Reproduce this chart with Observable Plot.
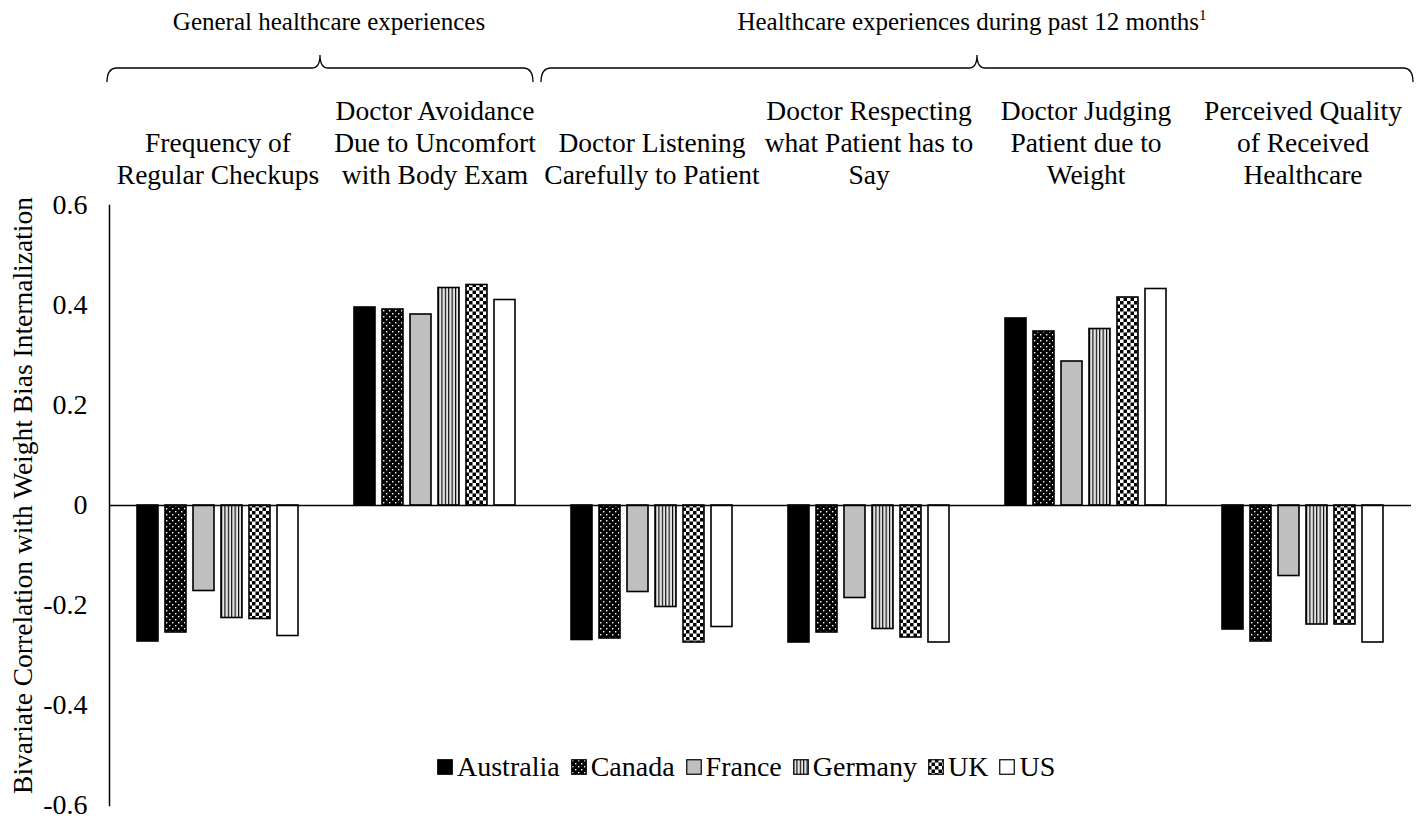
<!DOCTYPE html>
<html>
<head>
<meta charset="utf-8">
<script src="https://cdn.jsdelivr.net/npm/d3@7"></script>
<script src="https://cdn.jsdelivr.net/npm/@observablehq/plot@0.6"></script>
<style>
  html, body { margin: 0; padding: 0; background: white; }
  #wrap { position: relative; width: 1420px; height: 820px; font-family: "Liberation Serif", "Times New Roman", serif; }
  #legend { position: absolute; left: 437px; top: 751px; display: flex; align-items: center; font-size: 28px; white-space: nowrap; }
  #legend .item { display: flex; align-items: center; margin-right: 11px; }
  #legend svg { margin-right: 4px; }
</style>
</head>
<body>
<svg width="0" height="0" style="position:absolute">
  <defs>
    <pattern id="pat-canada" width="6" height="6" patternUnits="userSpaceOnUse">
      <rect width="6" height="6" fill="black"/>
      <rect x="1" y="1" width="1.4" height="1.4" fill="white"/>
      <rect x="4" y="4" width="1.4" height="1.4" fill="white"/>
    </pattern>
    <pattern id="pat-germany" width="3.4" height="4" patternUnits="userSpaceOnUse">
      <rect width="3.4" height="4" fill="#e4e4e4"/>
      <rect x="0" width="1.1" height="4" fill="black"/>
    </pattern>
    <pattern id="pat-uk" width="7" height="7" patternUnits="userSpaceOnUse">
      <rect width="7" height="7" fill="white"/>
      <rect width="3.5" height="3.5" fill="black"/>
      <rect x="3.5" y="3.5" width="3.5" height="3.5" fill="black"/>
    </pattern>
  </defs>
</svg>
<div id="wrap"></div>
<script>
// ---- data ----
const categories = [
  "Frequency of\nRegular Checkups",
  "Doctor Avoidance\nDue to Uncomfort\nwith Body Exam",
  "Doctor Listening\nCarefully to Patient",
  "Doctor Respecting\nwhat Patient has to\nSay",
  "Doctor Judging\nPatient due to\nWeight",
  "Perceived Quality\nof Received\nHealthcare"
];
const countries = ["Australia", "Canada", "France", "Germany", "UK", "US"];
const australia = [-0.272, 0.396, -0.269, -0.274, 0.374, -0.248];
const canada    = [-0.254, 0.392, -0.266, -0.254, 0.348, -0.272];
const france    = [-0.171, 0.382, -0.173, -0.185, 0.288, -0.141];
const germany   = [-0.225, 0.435, -0.203, -0.247, 0.353, -0.238];
const uk        = [-0.227, 0.441, -0.274, -0.264, 0.416, -0.238];
const us        = [-0.261, 0.411, -0.243, -0.274, 0.433, -0.274];
const yTicks = [-0.6, -0.4, -0.2, 0, 0.2, 0.4, 0.6];
const yTitle = "Bivariate Correlation with Weight Bias Internalization";
const groupHeaders = ["General healthcare experiences", "Healthcare experiences during past 12 months"];
const groupFootnote = ["", "1"];
const groupFirst = [0, 2];
const groupLast = [1, 5];
const countryFills = ["black", "url(#pat-canada)", "#bfbfbf", "url(#pat-germany)", "url(#pat-uk)", "white"];

// ---- table ----
const series = [australia, canada, france, germany, uk, us];
const rows = [];
categories.forEach((c, i) => countries.forEach((k, j) => rows.push({category: c, country: k, value: series[j][i]})));

const font = "'Liberation Serif', 'Times New Roman', serif";
const plot = Plot.plot({
  width: 1420,
  height: 820,
  marginTop: 205,
  marginBottom: 15,
  marginLeft: 109,
  marginRight: 9,
  style: {fontFamily: font, fontSize: "27px", color: "black", background: "white"},
  fx: {domain: categories, paddingInner: 0, paddingOuter: 0, label: null, axis: null},
  x: {domain: countries, paddingInner: 0.24, paddingOuter: 0.9, axis: null},
  y: {domain: [-0.6, 0.6], axis: null},
  color: {domain: countries, range: countryFills},
  marks: [
    Plot.barY(rows, {fx: "category", x: "country", y: "value", fill: "country", stroke: "black", strokeWidth: 1.6}),
    Plot.ruleY([0], {stroke: "black", strokeWidth: 1.5}),
    Plot.frame({anchor: "left", facet: "super", stroke: "black", strokeWidth: 1.5}),
    Plot.axisY({ticks: yTicks, tickSize: 0, tickPadding: 22, fontSize: 28,
      tickFormat: d => d === 0 ? "0" : d.toFixed(1),
      label: yTitle, labelAnchor: "center", labelOffset: 97, labelArrow: "none"}),
    Plot.axisFx({anchor: "top", tickSize: 0, tickPadding: 22, fontSize: 27.5, lineHeight: 1.16, label: null})
  ]
});
document.getElementById("wrap").appendChild(plot);
// the rotated axis title in the same serif size as in the reference, nudged up a little
d3.select(plot).selectAll("g[aria-label='y-axis label'] text").attr("font-size", 27.5).attr("dx", 10);

// ---- group headers and braces, positioned with the fx scale ----
const fx = plot.scale("fx");
const bw = fx.bandwidth;
const svg = d3.select(plot);
const headerShift = [9, -5];
groupHeaders.forEach((h, g) => {
  const x0 = fx.apply(categories[groupFirst[g]]) - 2;
  const x1 = fx.apply(categories[groupLast[g]]) + bw + (g === 0 ? -10 : 2);
  const xm = (x0 + x1) / 2;
  const yL = 68, yE = 82, yC = 55;
  const p = `M${x0},${yE} Q${x0},${yL} ${x0 + 10},${yL} L${xm - 8},${yL} Q${xm},${yL} ${xm},${yC} Q${xm},${yL} ${xm + 8},${yL} L${x1 - 10},${yL} Q${x1},${yL} ${x1},${yE}`;
  svg.append("path").attr("d", p).attr("fill", "none").attr("stroke", "black").attr("stroke-width", 1.3);
  const t = svg.append("text").attr("x", xm + headerShift[g]).attr("y", 30).attr("text-anchor", "middle")
    .attr("font-family", font).attr("font-size", 25).attr("fill", "black").text(h);
  if (groupFootnote[g]) t.append("tspan").attr("font-size", 15).attr("dy", -10).text(groupFootnote[g]);
});

// ---- legend ----
const legend = d3.select("#wrap").append("div").attr("id", "legend");
countries.forEach((k, j) => {
  const it = legend.append("div").attr("class", "item");
  const s = it.append("svg").attr("width", 16).attr("height", 16);
  s.append("rect").attr("x", 0.75).attr("y", 0.75).attr("width", 14.5).attr("height", 14.5)
    .attr("fill", countryFills[j]).attr("stroke", "black").attr("stroke-width", 1.2);
  it.append("span").text(k);
});
</script>
</body>
</html>
